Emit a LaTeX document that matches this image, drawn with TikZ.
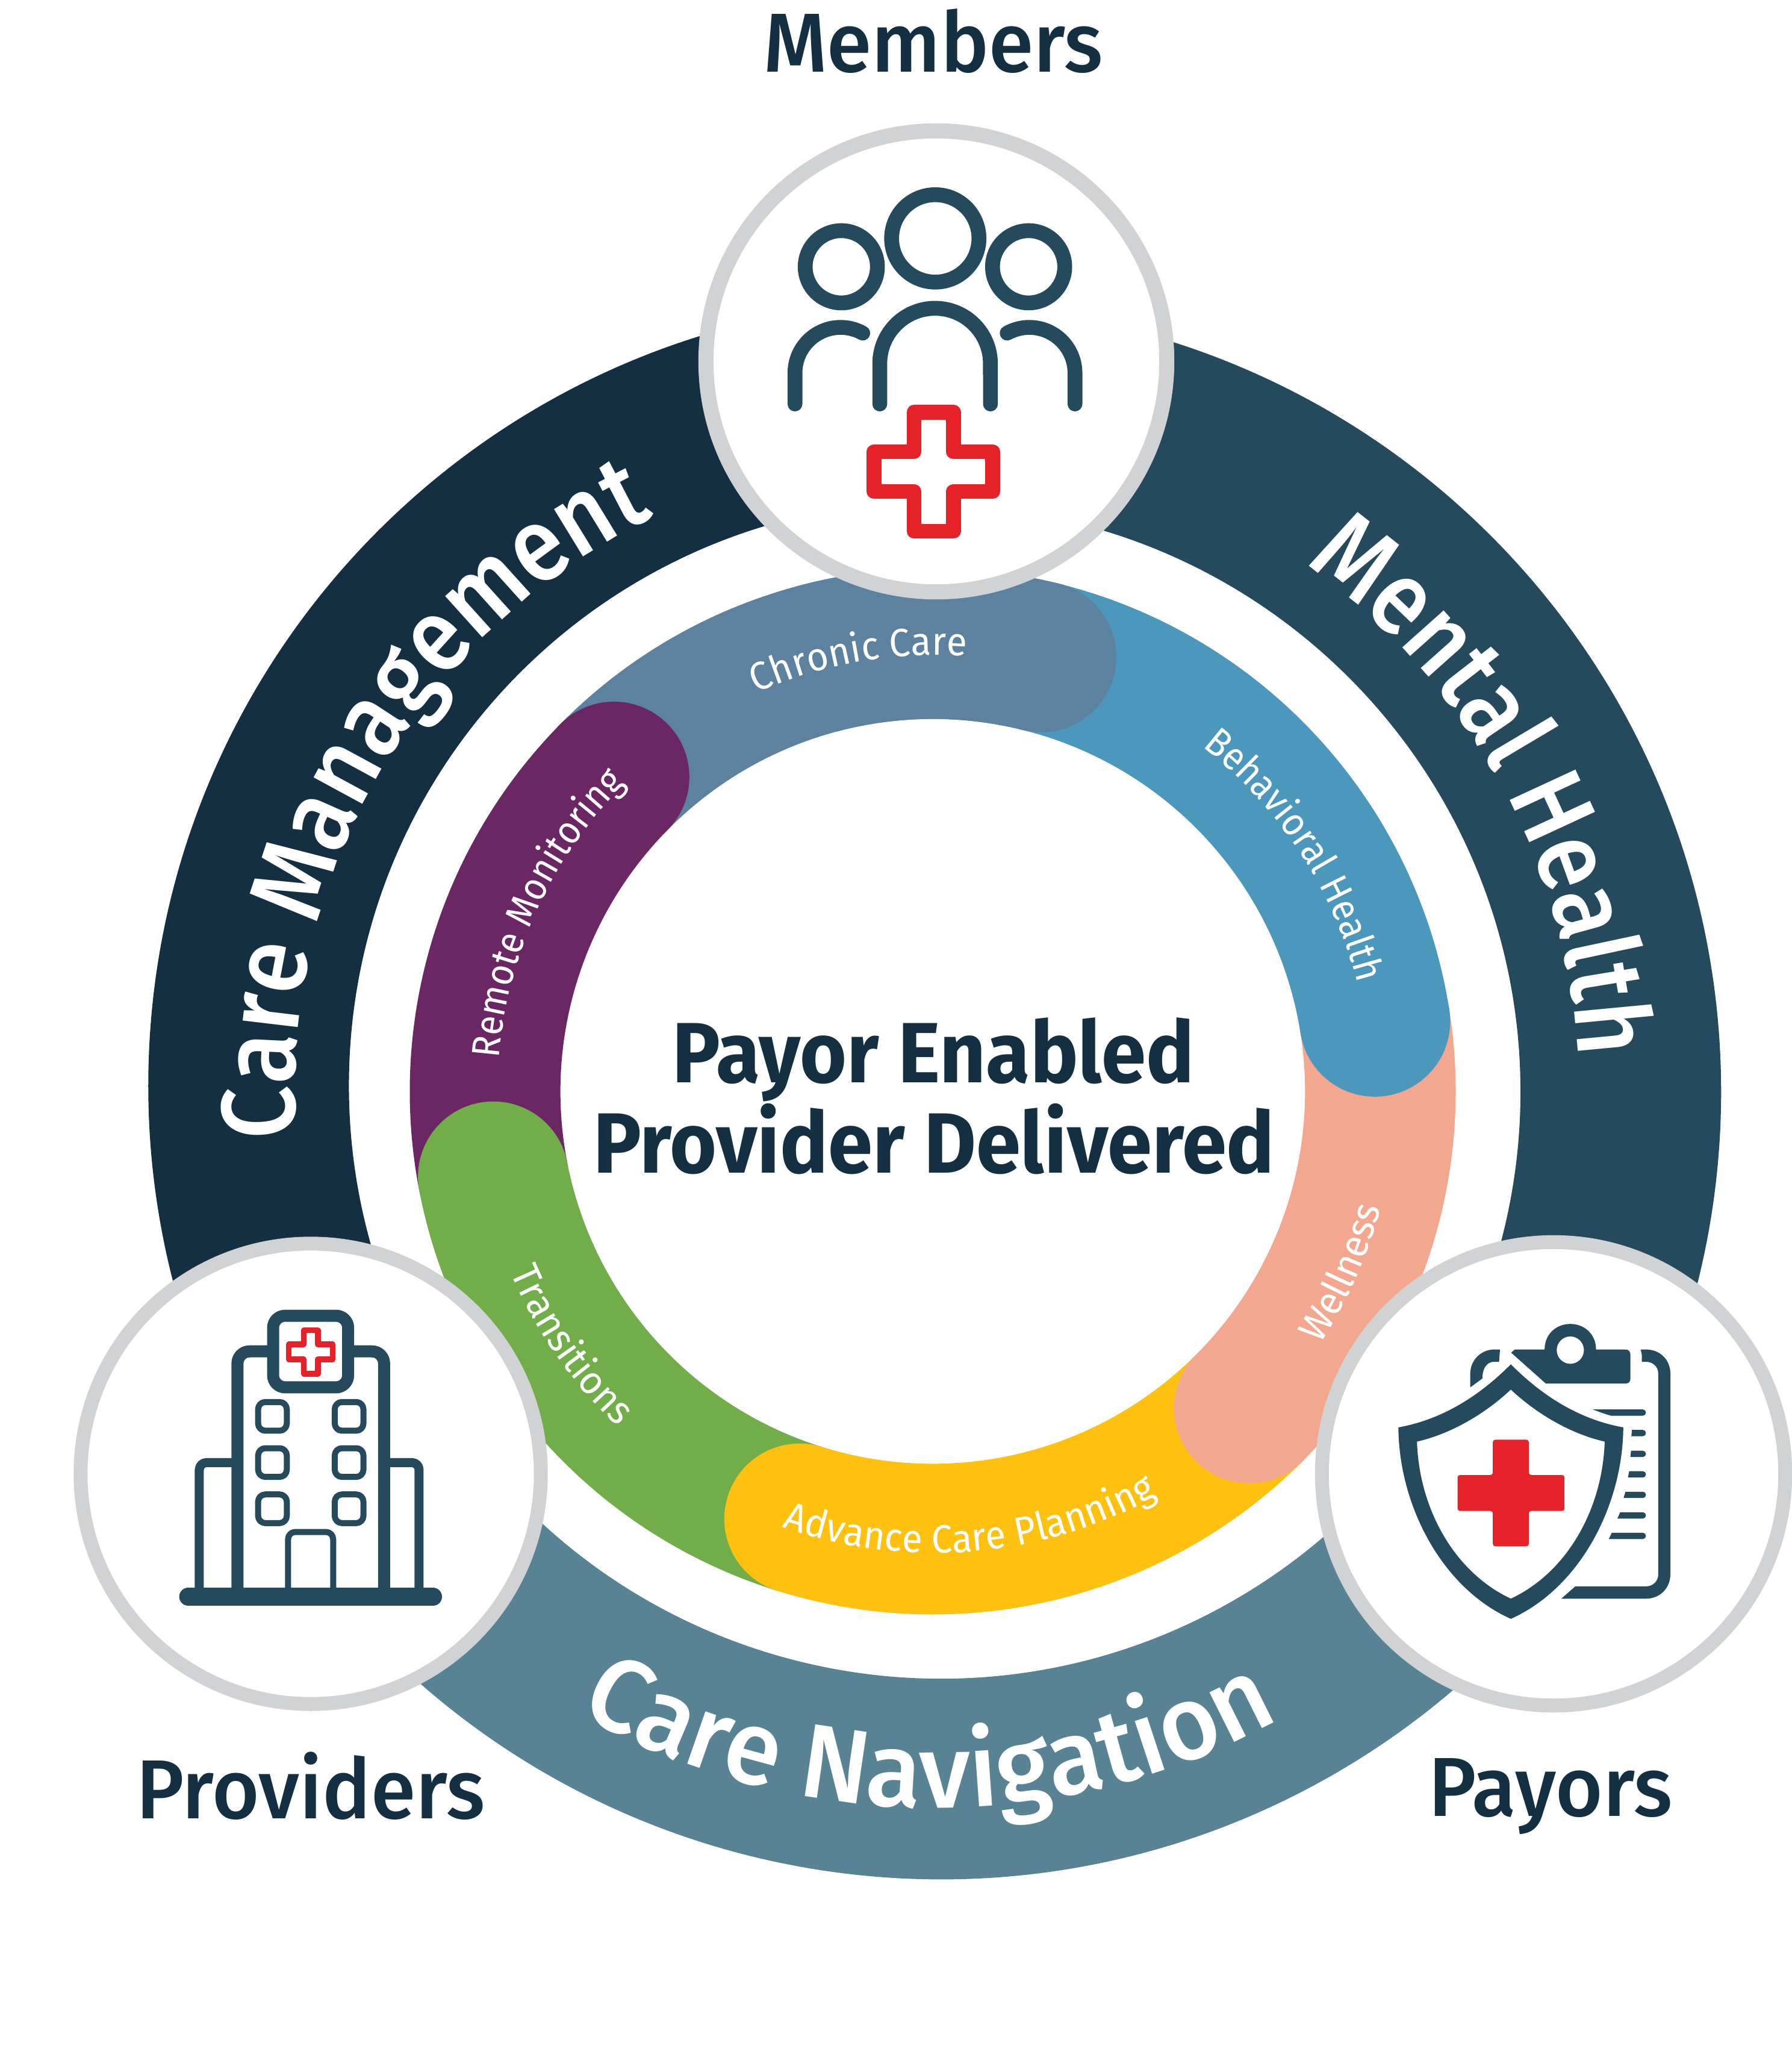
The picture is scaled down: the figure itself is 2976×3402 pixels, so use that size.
\documentclass[tikz,border=0pt]{standalone}
\usepackage{fontspec}
\usetikzlibrary{decorations.text}
\setmainfont{Fira Sans}
\newfontfamily\dbold[FakeStretch=0.94]{Fira Sans Bold}
\newfontfamily\dmed[FakeStretch=0.97]{Fira Sans Medium}
\newfontfamily\dmedA[FakeStretch=0.87]{Fira Sans Medium}
\newfontfamily\dmedB[FakeStretch=0.885]{Fira Sans Medium}
\newfontfamily\dmedC[FakeStretch=0.97]{Fira Sans Medium}
\newfontfamily\dregA[FakeStretch=0.90]{Fira Sans}
\newfontfamily\dregB[FakeStretch=0.95]{Fira Sans}
\definecolor{cdark}{HTML}{152F42}
\definecolor{cmental}{HTML}{25495D}
\definecolor{cnav}{HTML}{588394}
\definecolor{cchronic}{HTML}{5D829F}
\definecolor{cbehav}{HTML}{4B98BC}
\definecolor{cwell}{HTML}{F4A78F}
\definecolor{cyell}{HTML}{FEC110}
\definecolor{cgreen}{HTML}{71AD48}
\definecolor{cpurple}{HTML}{6A2763}
\definecolor{cgray}{HTML}{D1D2D4}
\definecolor{cred}{HTML}{E52129}
\newcommand\RingArc[5]{\draw[line width=33.3mm,#3] ([shift={(#1:#5cm)}]#4) arc[start angle=#1,end angle=#2,radius=#5cm];}
\newcommand\Seg[3]{%
  \draw[line width=25mm,#3] ([shift={(#1:7.43cm)}]D) arc[start angle=#1,end angle=#2,radius=7.43cm];
  \fill[#3] ([shift={(#2:7.43cm)}]D) circle[radius=12.5mm];}
\newcommand\CT[5]{%
  \pgfmathsetmacro\sa{#1-#2*40}\pgfmathsetmacro\ea{#1+#2*40}%
  \path[decorate,decoration={text along path,text align=center,text color=white,text={|#4|#5}}]
    ([shift={(\sa:#3cm)}]C) arc[start angle=\sa,end angle=\ea,radius=#3cm];}
\newcommand\BigSize{\fontsize{49.5pt}{50pt}\selectfont}
\newcommand\SmallSize{\fontsize{18.6pt}{19pt}\selectfont}
\tikzset{
  hub/.style={circle,draw=cgray,fill=white,inner sep=0pt},
  titletext/.style={anchor=base,text=cdark,font=\dbold\fontsize{40.4pt}{41pt}\selectfont},
  actor/.style={anchor=base,text=cdark,font=\dmed\fontsize{39.5pt}{40pt}\selectfont},
  iconline/.style={draw=cmental,line cap=round,line join=round},
}
\begin{document}
\begin{tikzpicture}[x=0.01cm,y=-0.01cm]
\useasboundingbox (0,0) rectangle (2976,3402);
\fill[white] (0,0) rectangle (2976,3402);
\coordinate (C) at (1552,1813);
\coordinate (D) at (1549,1812);
\coordinate (CM) at (1550,1803);
\coordinate (CN) at (1562,1810);
% outer ring
\RingArc{90}{211.5}{cdark}{CM}{11.365}
\RingArc{90}{-31.7}{cmental}{C}{11.39}
\RingArc{211.5}{328.3}{cnav}{CN}{11.43}
\CT{150.05}{-1}{10.62}{\dmedB\BigSize}{Care Management}
\CT{29}{-1}{10.70}{\dmedA\BigSize}{Mental Health}
\CT{269.5}{1}{11.88}{\dmedC\BigSize}{Care Navigation}
% inner ring
\Seg{135.4}{76}{cchronic}
\Seg{191}{135.4}{cpurple}
\Seg{252.7}{191}{cgreen}
\Seg{315}{252.7}{cyell}
\Seg{369}{315}{cwell}
\Seg{76}{9}{cbehav}
\Seg{105}{76}{cchronic}
\CT{99.95}{-1}{7.25}{\dregB\SmallSize}{Chronic Care}
\CT{33.3}{-1}{7.25}{\dregA\SmallSize}{Behavioral Health}
\CT{155.35}{-1}{7.25}{\dregA\SmallSize}{Remote Monitoring}
\CT{-23.9}{1}{7.65}{\dregB\SmallSize}{Wellness}
\CT{274.75}{1}{7.65}{\dregB\SmallSize}{Advance Care Planning}
\CT{214.8}{1}{7.65}{\dregB\SmallSize}{Transitions}
% hubs
\node[hub,line width=2.5mm,minimum size=76.5mm] (members) at (1555,600) {};
\node[hub,line width=2.3mm,minimum size=76.4mm] (providers) at (516,2447) {};
\node[hub,line width=2.3mm,minimum size=76.9mm] (payors) at (2580,2447) {};
% members icon
\begin{scope}[shift={(1150,190)},x=0.00523cm,y=-0.00523cm]
  \begin{scope}[iconline,line width=2.46mm]
  \draw (770,393) circle[radius=138.5];
  \draw (472,483) circle[radius=114.5];
  \draw (1066,483) circle[radius=114.5];
  \draw (594,918) -- (594,790) arc[start angle=180,end angle=0,radius=0.918cm] -- (945,918);
  \draw (325,918) -- (325,820) arc[start angle=180,end angle=61,radius=0.758cm];
  \draw (1213,918) -- (1213,820) arc[start angle=0,end angle=119,radius=0.758cm];
  \draw[draw=cred] (702.5,944.5) -- (827.5,944.5) -- (827.5,1069.5) -- (952,1069.5) -- (952,1195.5) -- (827.5,1195.5) -- (827.5,1321.5) -- (702.5,1321.5) -- (702.5,1195.5) -- (576,1195.5) -- (576,1069.5) -- (702.5,1069.5) -- cycle;
  \end{scope}
\end{scope}
% providers icon
\begin{scope}[shift={(110,2040)},x=0.00523cm,y=-0.00523cm]
  \begin{scope}[draw=cmental,line join=round]
  \draw[line width=1.5mm,rounded corners=1.2mm] (422,1167) -- (422,741.5) -- (543,741.5);
  \draw[line width=1.5mm,rounded corners=1.2mm] (1119,1167) -- (1119,741.5) -- (1008,741.5);
  \draw[line width=2mm,rounded corners=2mm] (543,1167) -- (543,389) -- (1008,389) -- (1008,1167);
  \draw[line width=2mm,rounded corners=2mm,fill=white] (656,276) rectangle (894,503);
  \draw[line width=1mm,rounded corners=1.2mm] (703.5,1167) -- (703.5,961.5) -- (846.5,961.5) -- (846.5,1167);
  \foreach \wx in {608.5,851.5}
    \foreach \wy in {549.5,696,842.5}
      \draw[line width=1mm,rounded corners=1.2mm] (\wx,\wy) rectangle ++(91,91);
  \draw[cmental,line width=3mm,line cap=round] (387,1167) -- (1163,1167);
  \draw[cred,line width=0.95mm] (753,322) -- (798,322) -- (798,367) -- (845,367) -- (845,414) -- (798,414) -- (798,460) -- (753,460) -- (753,414) -- (706,414) -- (706,367) -- (753,367) -- cycle;
  \end{scope}
\end{scope}
% payors icon
\begin{scope}[shift={(2170,2040)},x=0.00514cm,y=-0.00523cm]
  \fill[cmental,even odd rule]
    (659,430) .. controls (760,530) and (880,605) .. (1022,630)
    .. controls (1020,880) and (880,1140) .. (659,1237)
    .. controls (438,1140) and (298,880) .. (296,630)
    .. controls (438,605) and (558,530) .. (659,430) -- cycle
    (659,510) .. controls (740,585) and (850,650) .. (962,675)
    .. controls (955,890) and (840,1090) .. (659,1173)
    .. controls (478,1090) and (363,890) .. (356,675)
    .. controls (468,650) and (578,585) .. (659,510) -- cycle;
  \fill[cred,rounded corners=0.4mm] (601,669) -- (717,669) -- (717,781) -- (832,781) -- (832,895) -- (717,895) -- (717,1007) -- (601,1007) -- (601,895) -- (487,895) -- (487,781) -- (601,781) -- cycle;
  \fill[cmental] (528,503) -- (528,460) .. controls (528,415) and (565,383) .. (605,383) -- (624,383) -- (621,422) -- (605,422) .. controls (580,422) and (567,445) .. (567,475) -- cycle;
  \fill[cmental,even odd rule] (660,393) -- (672,383) -- (768,383) .. controls (768,335) and (805,302) .. (851,302) .. controls (897,302) and (934,335) .. (934,383) -- (1028,383) .. controls (1040,383) and (1045,390) .. (1045,400) -- (1045,475) .. controls (1045,485) and (1040,491) .. (1028,491) -- (772,491) -- cycle
    (851,385) circle[x radius=44,y radius=43.5];
  \fill[cmental] (1078,383) -- (1095,383) .. controls (1140,383) and (1174,415) .. (1174,460) -- (1174,1095) .. controls (1174,1140) and (1140,1173) .. (1095,1173) -- (822,1173) -- (867,1134) -- (1095,1134) .. controls (1118,1134) and (1135,1118) .. (1135,1095) -- (1135,460) .. controls (1135,438) and (1118,422) .. (1095,422) -- (1082,422) -- (1082,400) -- cycle;
  \fill[cmental] (923,573) -- (1085,573) arc[start angle=90,end angle=-90,radius=0.0523cm] -- (983,593) .. controls (960,587) and (940,579) .. (923,573) -- cycle;
  \foreach \ax/\bx/\ty in {1050/1048/638,1047/1045/704,1041/1037/769,1029/1023/834,1012/1003/899,985/975/964}
    \fill[cmental] (\ax,\ty) -- (1085,\ty) arc[start angle=90,end angle=-90,radius=0.0523cm] -- (\bx,\ty+20) -- cycle;
\end{scope}
% texts
\node[titletext] (t1) at (1550,1797) {Payor Enabled};
\node[titletext] (t2) at (1551,1947) {Provider Delivered};
\node[actor] (lmembers) at (1550,119) {Members};
\node[actor] (lproviders) at (516,3019) {Providers};
\node[actor] (lpayors) at (2575,3015) {Payors};
\end{tikzpicture}
\end{document}
